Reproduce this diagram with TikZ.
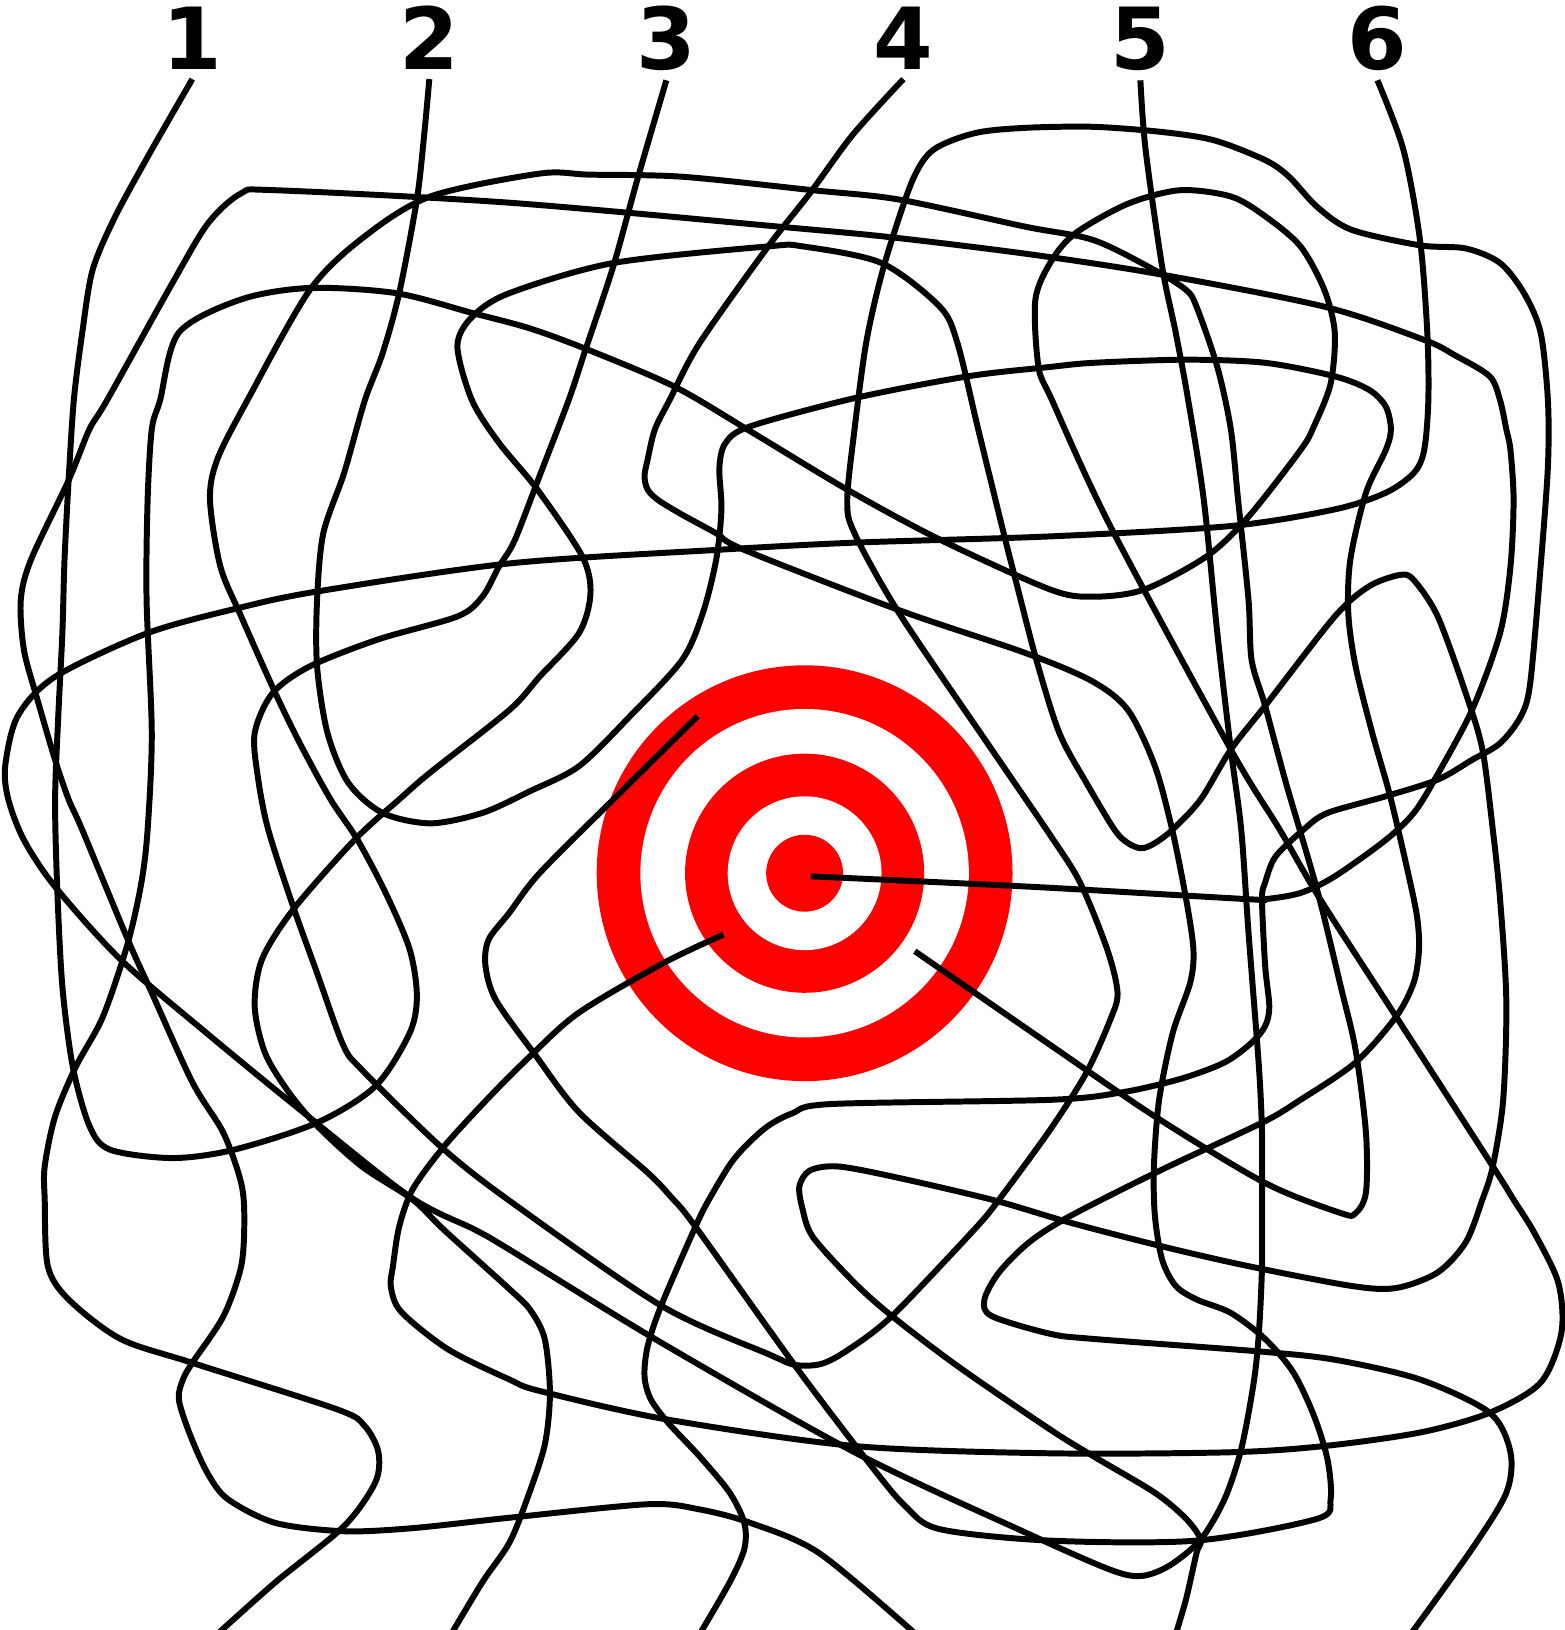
\documentclass[tikz,border=0pt]{standalone}
\usepackage{fontspec}
\setmainfont{DejaVu Sans}
\usepackage{tikz}
\definecolor{mazered}{HTML}{FF0000}
\tikzset{%
  mazewire/.style={%
    draw=black,
    line width=1.7pt,
    line join=round
  },
  mazenum/.style={%
    font=\fontsize{24.4}{28}\selectfont\bfseries,
    inner sep=2.5pt,
    anchor=base
  },
  mazepath/.style={smooth,tension=0.5}
}
\begin{document}
\begin{tikzpicture}[x=0.0104cm,y=-0.0104cm]
  \useasboundingbox (0,0) rectangle (1505,1568);
  \coordinate (target) at (774,840);
  \foreach \r/\c in {200/mazered,158/white,115/mazered,74/white,37/mazered}
    \fill[\c] (target) circle[radius=\r];

  \node[mazenum] (n1) at (185,67) {1};
  \node[mazenum] (n2) at (413,67) {2};
  \node[mazenum] (n3) at (641,67) {3};
  \node[mazenum] (n4) at (869,67) {4};
  \node[mazenum] (n5) at (1097,67) {5};
  \node[mazenum] (n6) at (1325,67) {6};

  \draw[mazewire] plot[mazepath] coordinates {(n1.south) (142,151) (110,210) (89,260) (79,321) (71,385) (66,462) (62,540) (60,609) (56,690) (53,769) (55,853) (60,949) (70,1026) (86,1083) (106,1106) (166,1114) (225,1106) (305,1080) (361,1045) (394,994) (401,958) (394,913) (371,859) (344,808) (318,769) (290,718) (265,667) (232,593) (212,545) (202,481) (209,442) (238,385) (298,279) (350,228) (414,189) (519,167) (567,168) (656,170) (782,183) (865,192) (986,218) (1052,231) (1111,260) (1141,279) (1151,295) (1171,353) (1184,413) (1191,481) (1201,577) (1204,635) (1217,679) (1237,753) (1267,856) (1290,950) (1304,1010) (1314,1090) (1314,1147) (1304,1167) (1290,1167) (1217,1138) (1111,1074) (1010,1005) (880,915)};

  \draw[mazewire] plot[mazepath] coordinates {(n2.south) (408,130) (401,192) (384,282) (368,340) (351,385) (331,455) (311,513) (305,577) (305,641) (315,705) (335,753) (368,782) (414,792) (464,782) (510,761) (557,737) (606,689) (656,635) (676,590) (689,538) (694,490) (692,450) (698,426) (722,410) (822,383) (931,362) (1010,353) (1052,349) (1141,346) (1217,349) (1284,362) (1317,375) (1333,391) (1338,413) (1333,433) (1314,474) (1299,538) (1297,590) (1304,641) (1320,705) (1337,765) (1353,833) (1363,881) (1365,913) (1360,945) (1343,978) (1304,1022) (1251,1058) (1214,1080) (1118,1125) (1029,1170) (990,1195) (961,1224) (947,1250) (954,1266) (1010,1283) (1052,1288) (1211,1300) (1284,1308) (1366,1327) (1433,1359) (1453,1397) (1449,1436) (1416,1490) (1357,1572)};

  \draw[mazewire] plot[mazepath] coordinates {(n3.south) (613,173) (590,256) (563,337) (547,385) (519,458) (495,520) (480,545) (464,574) (440,593) (364,615) (298,641) (262,667) (245,705) (248,747) (258,798) (282,872) (305,936) (330,1005) (348,1029) (424,1103) (490,1155) (636,1256) (740,1303) (765,1313) (790,1312) (815,1299) (858,1266) (937,1183) (961,1154) (1010,1087) (1045,1032) (1068,981) (1075,955) (1065,913) (1039,849) (1010,803) (954,721) (865,590) (822,513) (815,481) (822,413) (832,337) (842,288) (855,240) (878,173) (898,144) (938,128) (986,123) (1052,122) (1118,127) (1168,135) (1217,154) (1240,170) (1267,199) (1300,221) (1366,236) (1410,239) (1443,253) (1466,282) (1482,320) (1489,385) (1489,449) (1482,545) (1472,657) (1463,689) (1443,715) (1416,731) (1383,750) (1333,766) (1277,782) (1254,798) (1227,824) (1217,849) (1214,865) (1217,929) (1221,968) (1217,987) (1204,1003) (1178,1022) (1135,1038) (1078,1051) (1010,1058) (800,1062) (762,1071) (735,1086) (706,1115) (682,1154) (669,1180) (636,1256) (623,1295) (620,1324) (626,1346) (643,1369) (673,1401) (702,1436) (716,1465) (716,1490) (702,1522) (673,1572)};

  \draw[mazewire] plot[mazepath] coordinates {(n4.south) (820,130) (779,186) (739,237) (673,330) (644,385) (630,413) (623,442) (620,458) (623,471) (633,481) (656,495) (689,513) (716,529) (865,587) (986,628) (1050,655) (1085,683) (1111,737) (1128,800) (1141,865) (1148,913) (1145,945) (1128,994) (1115,1058) (1110,1122) (1111,1170) (1118,1212) (1131,1237) (1151,1250) (1184,1263) (1217,1288) (1244,1320) (1264,1362) (1277,1404) (1280,1442) (1267,1461) (1151,1482) (1010,1482) (904,1471) (871,1449) (838,1410) (765,1314) (669,1180) (646,1152) (623,1128) (557,1070) (515,1015) (477,962) (467,929) (470,904) (490,878) (519,840) (590,769) (671,689)};

  \draw[mazewire] plot[mazepath] coordinates {(n6.south) (1350,144) (1366,231) (1373,320) (1374,385) (1370,433) (1360,455) (1333,474) (1284,490) (1184,506) (1010,516) (822,522) (689,529) (490,542) (305,569) (229,585) (142,609) (53,651) (17,689) (5,737) (8,769) (23,808) (53,853) (116,923) (199,994) (288,1067) (394,1151) (457,1183) (490,1202) (630,1288) (822,1397) (986,1474) (1068,1510) (1098,1516) (1125,1506) (1155,1481) (1178,1442) (1194,1394) (1206,1330) (1211,1282) (1214,1218) (1214,1150) (1214,1090) (1211,1026) (1201,897) (1194,798) (1184,721) (1171,609) (1158,481) (1143,385) (1131,320) (1118,257) (1102,144) (n5.south)};

  \draw[mazewire] plot[mazepath] coordinates {(696,899) (639,926) (557,974) (510,1016) (470,1056) (427,1103) (397,1144) (384,1180) (378,1218) (376,1238) (386,1262) (431,1298) (490,1327) (519,1338) (639,1365) (822,1391) (1010,1398) (1184,1397) (1274,1391) (1366,1378) (1433,1359) (1482,1330) (1502,1282) (1499,1234) (1476,1186) (1456,1154) (1436,1122) (1343,978) (1270,865) (1231,798) (1184,721) (1068,506) (1012,385) (999,353) (996,288) (1012,250) (1035,224) (1085,196) (1135,183) (1184,189) (1217,208) (1251,237) (1274,279) (1284,320) (1280,369) (1264,410) (1251,433) (1201,497) (1161,535) (1101,567) (1052,574) (1010,567) (904,519) (815,471) (722,415) (649,372) (567,337) (510,316) (454,301) (381,282) (298,277) (232,288) (172,320) (154,385) (146,413) (142,481) (141,577) (146,705) (142,798) (136,849) (123,907) (99,978) (73,1026) (53,1074) (43,1122) (43,1154) (46,1218) (66,1250) (116,1288) (185,1311) (325,1356) (351,1372) (364,1397) (361,1426) (331,1468) (265,1522) (209,1572)};

  \draw[mazewire] plot[mazepath] coordinates {(780,843) (888,848) (1010,854) (1201,865) (1217,865) (1251,859) (1284,843) (1333,808) (1360,782) (1380,750) (1416,683) (1443,609) (1453,545) (1456,481) (1453,433) (1449,413) (1443,385) (1433,362) (1400,342) (1370,327) (1274,295) (1111,263) (986,244) (855,228) (749,218) (490,195) (265,183) (232,186) (200,215) (166,272) (103,385) (86,413) (66,462) (30,538) (20,577) (23,625) (36,673) (53,731) (66,769) (79,798) (123,904) (146,955) (185,1041) (215,1090) (232,1138) (235,1173) (232,1218) (215,1266) (185,1311) (176,1327) (172,1346) (182,1378) (199,1416) (219,1442) (265,1465) (331,1473) (397,1470) (490,1460) (623,1447) (673,1452) (722,1465) (788,1494) (881,1572)};

  \draw[mazewire] plot[mazepath] coordinates {(434,1572) (464,1522) (490,1484) (507,1442) (524,1390) (529,1340) (524,1288) (510,1260) (490,1240) (427,1183) (397,1154) (348,1122) (305,1083) (278,1051) (255,1013) (245,968) (252,923) (282,875) (341,808) (384,769) (414,743) (490,683) (519,651) (557,609) (568,571) (560,535) (517,471) (480,426) (454,385) (440,333) (454,305) (490,282) (590,253) (739,237) (772,237) (848,253) (904,295) (921,330) (941,413) (967,519) (977,558) (997,635) (1019,705) (1045,753) (1072,798) (1085,811) (1098,816) (1111,811) (1128,798) (1155,769) (1184,721) (1217,679) (1284,593) (1317,564) (1347,553) (1360,558) (1383,593) (1410,667) (1426,721) (1436,798) (1443,865) (1449,962) (1446,1058) (1436,1122) (1426,1154) (1410,1195) (1383,1224) (1343,1239) (1300,1237) (1201,1218) (1118,1199) (1029,1176) (954,1154) (855,1131) (805,1122) (779,1126) (769,1141) (772,1163) (782,1190) (822,1234) (858,1266) (921,1314) (1010,1375) (1052,1401) (1111,1436) (1141,1461) (1155,1481) (1151,1494) (1141,1538) (1131,1572)};
\end{tikzpicture}
\end{document}
